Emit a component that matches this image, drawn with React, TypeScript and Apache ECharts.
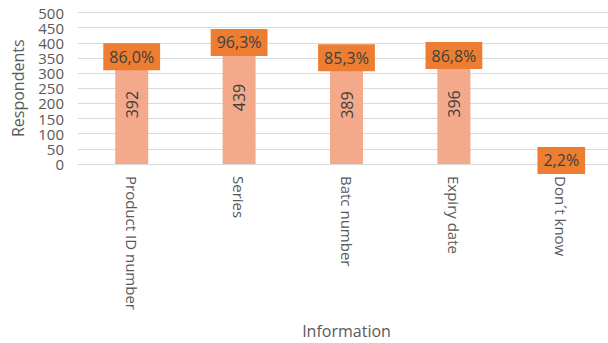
import React, { useEffect, useRef } from "react";
import * as echarts from "echarts";

const categories = ["Product ID number", "Series", "Batc number", "Expiry date", "Don´t know"];
const respondents = [392, 439, 389, 396, 10];
const percentLabels = ["86,0%", "96,3%", "85,3%", "86,8%", "2,2%"];
const showValueLabel = [true, true, true, true, false];
const yTicks = { min: 0, max: 500, interval: 50 };

const FONT = "'Open Sans', 'Noto Sans', sans-serif";
const TEXT = "#595959";

export default function App() {
  const ref = useRef<HTMLDivElement>(null);
  useEffect(() => {
    if (!ref.current) return;
    const chart = echarts.init(ref.current, undefined, { renderer: "svg" });
    const pctData = respondents.map((v) => {
      const small = v < 50;
      return {
        value: v,
        label: small
          ? { position: "inside", offset: [0, -2] }
          : { position: "insideTop", distance: -2 },
      };
    });
    chart.setOption({
      animation: false,
      textStyle: { fontFamily: FONT },
      grid: { left: 78, right: -7, top: 12.5, bottom: 179, containLabel: false, outerBoundsMode: "none" },
      xAxis: {
        type: "category",
        data: categories,
        name: "Information",
        nameLocation: "middle",
        nameGap: 159,
        nameTextStyle: { fontFamily: FONT, fontSize: 16, color: TEXT },
        axisLine: { show: true, lineStyle: { color: "#D9D9D9", width: 1 } },
        axisTick: { show: false },
        axisLabel: {
          rotate: -90,
          fontFamily: FONT,
          fontSize: 15,
          color: TEXT,
          margin: 12,
          interval: 0,
        },
      },
      yAxis: {
        type: "value",
        min: yTicks.min,
        max: yTicks.max,
        interval: yTicks.interval,
        name: "Respondents",
        nameLocation: "middle",
        nameGap: 52,
        nameTextStyle: { fontFamily: FONT, fontSize: 16, color: TEXT },
        axisLine: { show: false },
        axisTick: { show: false },
        axisLabel: {
          fontFamily: FONT,
          fontSize: 15,
          lineHeight: 14,
          color: TEXT,
          margin: 14,
          showMinLabel: true,
          showMaxLabel: true,
          hideOverlap: false,
        },
        splitLine: { lineStyle: { color: "#D9D9D9", width: 1 } },
      },
      series: [
        {
          type: "bar",
          data: pctData,
          barWidth: 33,
          itemStyle: { color: "#F4A98B" },
          z: 2,
          label: {
            show: true,
            formatter: (p: any) => percentLabels[p.dataIndex],
            backgroundColor: "#ED7D31",
            padding: [4, 6, 4, 6],
            fontFamily: FONT,
            fontSize: 16,
            color: "#404040",
            lineHeight: 19,
          },
        },
        {
          type: "bar",
          data: respondents,
          barWidth: 33,
          barGap: "-100%",
          itemStyle: { color: "rgba(0,0,0,0)" },
          z: 3,
          label: {
            show: true,
            position: "inside",
            rotate: 90,
            formatter: (p: any) => (showValueLabel[p.dataIndex] ? String(p.value) : ""),
            fontFamily: FONT,
            fontSize: 16,
            color: "#404040",
          },
        },
      ],
    });
    return () => chart.dispose();
  }, []);
  return (
    <div
      ref={ref}
      style={{ position: "fixed", left: 0, top: 0, width: 608, height: 343, background: "#fff" }}
    />
  );
}
